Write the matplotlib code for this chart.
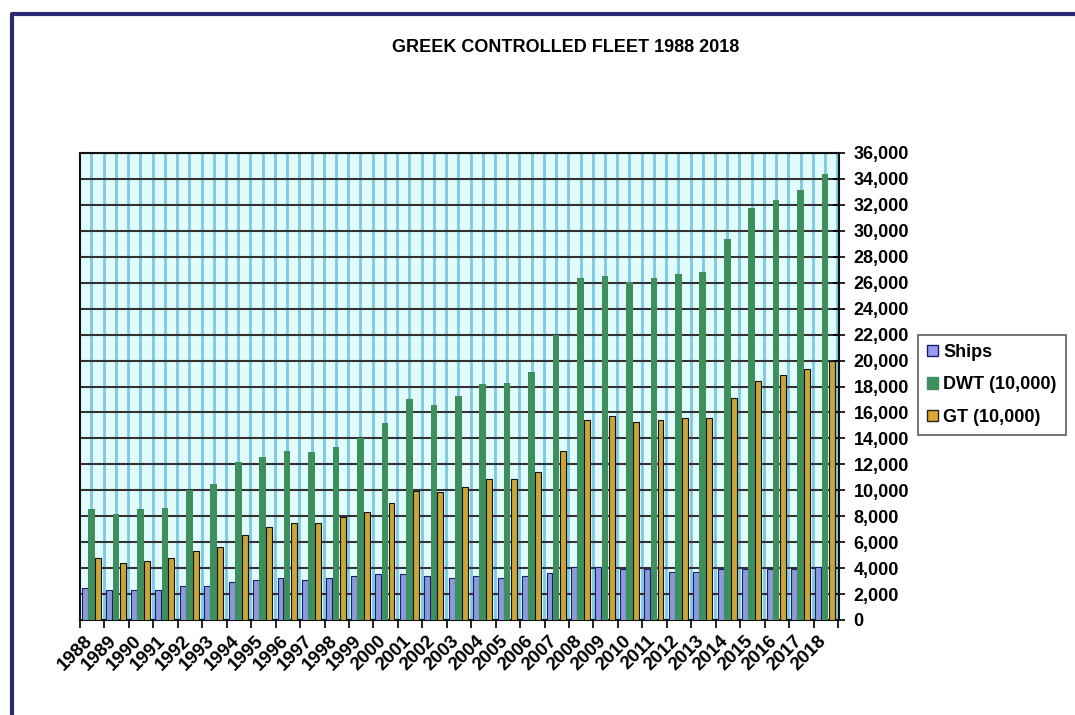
import numpy as np
import matplotlib
matplotlib.use("Agg")
import matplotlib.pyplot as plt
from matplotlib.lines import Line2D
from matplotlib.patches import Patch
from matplotlib.ticker import FuncFormatter, MultipleLocator

years = [str(y) for y in range(1988, 2019)]
ships = [2490, 2310, 2310, 2310, 2650, 2650, 2950, 3080, 3260, 3080,
         3260, 3390, 3550, 3550, 3390, 3210, 3390, 3210, 3390, 3650,
         4110, 4110, 3930, 3930, 3670, 3670, 3930, 3930, 3930, 3930, 4110]
dwt = [8530, 8200, 8530, 8660, 10000, 10500, 12200, 12600, 13050, 12930,
       13360, 14000, 15160, 17000, 16550, 17300, 18170, 18300, 19100, 22000,
       26340, 26520, 26080, 26340, 26650, 26800, 29380, 31790, 32380, 33150, 34360]
gt = [4750, 4420, 4570, 4750, 5350, 5650, 6550, 7140, 7450, 7450,
      7970, 8350, 9000, 9970, 9900, 10280, 10870, 10870, 11390, 13030,
      15420, 15750, 15290, 15420, 15600, 15600, 17090, 18450, 18890, 19330, 20000]

plt.rcParams['font.family'] = ['Liberation Sans', 'DejaVu Sans']

fig = plt.figure(figsize=(10.75, 7.15), dpi=100)
ax = fig.add_axes([80 / 1075, 95 / 715, 759 / 1075, 467 / 715])
ax.set_facecolor('#e2fcfc')

x = np.arange(len(years))
w = 0.27
ax.bar(x - w, ships, w * 0.9, color='#8b9bd8', edgecolor='#1c1c70', linewidth=0.8, zorder=3)
ax.bar(x, dwt, w, color='#3e8e5e', linewidth=0, zorder=3)
ax.bar(x + w, gt, w * 0.9, color='#c9a53a', edgecolor='#111111', linewidth=0.8, zorder=3)

ax.set_xlim(-0.47, 30.57)
ax.set_ylim(0, 36000)

# grid
for gx in np.arange(0, 31, 0.5):
    ax.axvline(gx, color='#7cc8e6', lw=2, zorder=1)
ax.yaxis.set_major_locator(MultipleLocator(2000))
ax.grid(axis='y', color='#333333', lw=1.5, zorder=2)

ax.yaxis.tick_right()
ax.yaxis.set_major_formatter(FuncFormatter(lambda v, p: f'{int(v):,}'))
ax.tick_params(axis='y', direction='inout', length=9, width=1.2, pad=6,
               labelsize=13)
for t in ax.get_yticklabels():
    t.set_fontweight('bold')

ax.set_xticks(np.arange(32) - 0.47)
ax.set_xticklabels([])
ax.tick_params(axis='x', which='major', direction='out', length=6, width=1.2)
ax.set_xticks(x - 0.3, years, minor=True)
ax.tick_params(axis='x', which='minor', length=0, pad=9, labelsize=13.5)
for t in ax.get_xticklabels(minor=True):
    t.set_rotation(45)
    t.set_ha('right')
    t.set_va('top')
    t.set_rotation_mode('anchor')
    t.set_fontweight('bold')

for s in ax.spines.values():
    s.set_color('#111111')
    s.set_linewidth(1.5)

fig.text(566 / 1075, 1 - 47 / 715, 'GREEK CONTROLLED FLEET 1988 2018',
         ha='center', va='center', fontsize=13, fontweight='bold',
         family=['Liberation Sans Narrow', 'Liberation Sans', 'DejaVu Sans'])

handles = [Patch(facecolor='#9a9aee', edgecolor='#1c1c70', linewidth=1),
           Patch(facecolor='#3e8e5e', edgecolor='#3e8e5e', linewidth=1),
           Patch(facecolor='#e0a830', edgecolor='#222222', linewidth=1)]
leg = fig.legend(handles, ['Ships', 'DWT (10,000)', 'GT (10,000)'],
                 loc='upper left', bbox_to_anchor=(918 / 1075, 1 - 335 / 715),
                 frameon=True, fancybox=False, edgecolor='#333333',
                 prop={'weight': 'bold', 'size': 13}, handlelength=0.6,
                 handleheight=0.6, handletextpad=0.3, labelspacing=0.85,
                 borderpad=0.5, borderaxespad=0)
leg.get_frame().set_linewidth(1.2)

# outer frame
fig.add_artist(Line2D([12 / 1075, 12 / 1075, 1.0], [0.0, 1 - 14 / 715, 1 - 14 / 715],
                      transform=fig.transFigure, color='#2a2a70', lw=3))

fig.savefig('out.png', dpi=100)
